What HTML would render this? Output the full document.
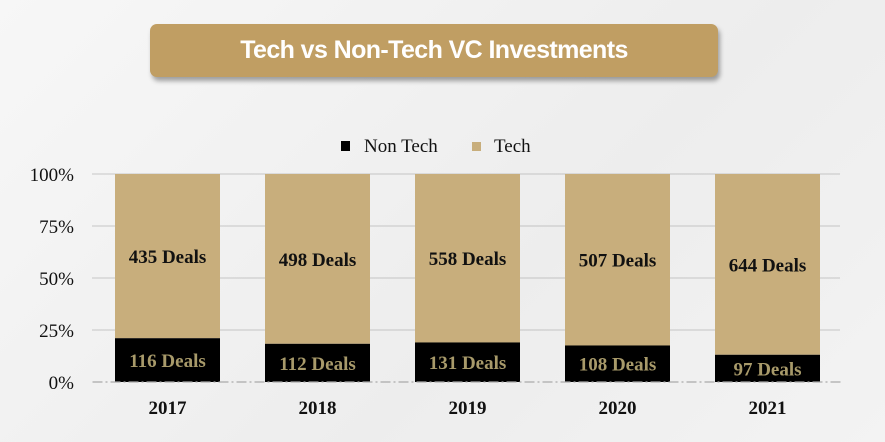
<!DOCTYPE html>
<html><head><meta charset="utf-8">
<style>
html,body{margin:0;padding:0;}
body{width:885px;height:442px;overflow:hidden;background:linear-gradient(135deg,#f7f7f7,#ededed 60%,#f3f3f3);position:relative;font-family:"Liberation Serif",serif;}
#title{position:absolute;left:150px;top:24px;width:568px;height:53px;background:#c09e63;border-radius:7px;box-shadow:2px 4px 5px rgba(0,0,0,.35);color:#fff;font:bold 25px "Liberation Sans",sans-serif;letter-spacing:-0.6px;text-align:center;line-height:53px;}
svg{position:absolute;left:0;top:0;}
</style></head><body>
<div id="title">Tech vs Non-Tech VC Investments</div>
<svg id="chart" width="885" height="442"></svg>
<script>
const categories=["2017","2018","2019","2020","2021"];
const nonTech=[116,112,131,108,97];
const tech=[435,498,558,507,644];
const yTicks=[0,25,50,75,100];
const NS="http://www.w3.org/2000/svg";
const svg=document.getElementById('chart');
const X0=92.5,X1=842.5,Y0=382,Y1=174,band=(X1-X0)/categories.length,bw=105;
const x=i=>X0+band*i+(band-bw)/2;
const y=p=>Y0-(Y0-Y1)*p/100;
function el(t,a,txt){const e=document.createElementNS(NS,t);for(const k in a)e.setAttribute(k,a[k]);if(txt!==undefined)e.textContent=txt;svg.appendChild(e);return e;}
yTicks.forEach(t=>{
 if(t>0){const g=el('line',{x1:X0,x2:X1-2,y1:y(t),y2:y(t),stroke:'#999','stroke-width':1,'stroke-dasharray':'1,1'});
 
 }
 const l=el('text',{x:74,y:y(t)+7,'text-anchor':'end','font-size':19,fill:'#111'},t+'%');
 
 
});
categories.forEach((c,i)=>{
 const tot=nonTech[i]+tech[i];const pn=nonTech[i]/tot*100;
 const bt=el('rect',{x:x(i),y:y(100),width:bw,height:y(pn)-y(100),fill:'#c8ae7c'});
 
 
 const bn=el('rect',{x:x(i),y:y(pn),width:bw,height:y(0)-y(pn),fill:'#000'});
 
 
 const lt=el('text',{x:x(i)+bw/2,y:(y(100)+y(pn))/2+7,'text-anchor':'middle','font-size':19,'font-weight':'bold',fill:'#111'},tech[i]+' Deals');
 
 
 const ln=el('text',{x:x(i)+bw/2,y:(y(pn)+y(0))/2+7,'text-anchor':'middle','font-size':19,'font-weight':'bold',fill:'#a89a6a'},nonTech[i]+' Deals');
 
 
 const lc=el('text',{x:x(i)+bw/2,y:414,'text-anchor':'middle','font-size':19,'font-weight':'bold',fill:'#111'},c);
 
 
});
const ax=el('line',{x1:X0,x2:X1-2,y1:Y0,y2:Y0,stroke:'#aaa','stroke-width':1.2,'stroke-dasharray':'10,3,2,3'});


const s1=el('rect',{x:341,y:141,width:9,height:10,fill:'#000'});


const t1=el('text',{x:364,y:152,'font-size':19,fill:'#111'},'Non Tech');


const s2=el('rect',{x:472,y:142,width:9,height:9,fill:'#c8ae7c'});


const t2=el('text',{x:494,y:152,'font-size':19,fill:'#111'},'Tech');


</script>
</body></html>
